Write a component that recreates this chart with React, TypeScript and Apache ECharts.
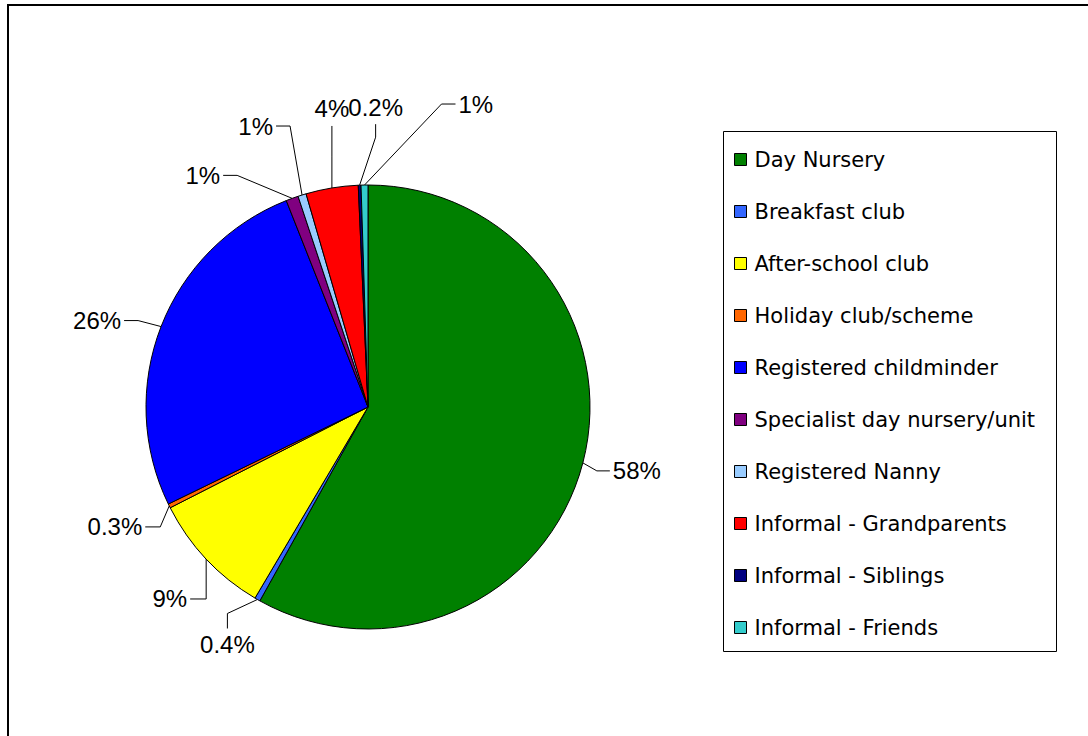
import React, { useEffect, useRef } from 'react';
import * as echarts from 'echarts';

const categories = [
  'Day Nursery',
  'Breakfast club',
  'After-school club',
  'Holiday club/scheme',
  'Registered childminder',
  'Specialist day nursery/unit',
  'Registered Nanny',
  'Informal - Grandparents',
  'Informal - Siblings',
  'Informal - Friends',
];
const values = [58.1, 0.4, 9.0, 0.3, 26.2, 0.9, 0.6, 3.8, 0.2, 0.5];
const valueLabels = ['58%', '0.4%', '9%', '0.3%', '26%', '1%', '1%', '4%', '0.2%', '1%'];
const colors = ['#008000', '#3366FF', '#FFFF00', '#FF6600', '#0000FF', '#800080', '#99CCFF', '#FF0000', '#000080', '#33CCCC'];

// leader line geometry relative to slice edge: [bendDx, bendDy, endDx, endDy, side]
const leaders: [number, number, number, number, string][] = [
  [14, 8, 27, 8, 'right'],
  [-30, 14, -30, 29, 'below'],
  [0, 40, -16, 40, 'left'],
  [-9, 21, -24, 21, 'left'],
  [-23, -6, -37, -6, 'left'],
  [-55, -23, -69, -23, 'left'],
  [-12, -69, -26, -69, 'left'],
  [0, -31, 0, -62, 'above'],
  [16, -48, 16, -61, 'above'],
  [77, -81, 91, -81, 'right'],
];

const CX = 368;
const CY = 407;
const R = 222;

function edgePoint(i: number): [number, number] {
  const total = values.reduce((a, b) => a + b, 0);
  let cum = 0;
  for (let k = 0; k < i; k++) cum += values[k];
  const mid = ((cum + values[i] / 2) / total) * Math.PI * 2;
  return [CX + R * Math.sin(mid), CY - R * Math.cos(mid)];
}

export default function App() {
  const ref = useRef<HTMLDivElement>(null);
  useEffect(() => {
    if (!ref.current) return;
    const chart = echarts.init(ref.current, null, { renderer: 'svg' });
    chart.setOption({
      animation: false,
      backgroundColor: '#fff',
      graphic: [
        {
          type: 'rect',
          z: -10,
          shape: { x: 8, y: 5, width: 1200, height: 900 },
          style: { fill: 'none', stroke: '#000', lineWidth: 2 },
        },
        {
          type: 'rect',
          z: -10,
          shape: { x: 723.5, y: 131.5, width: 333, height: 520 },
          style: { fill: 'none', stroke: '#000', lineWidth: 1 },
        },
      ],
      legend: {
        orient: 'vertical',
        left: 734,
        top: 149,
        padding: 0,
        itemGap: 31,
        itemWidth: 12,
        itemHeight: 12,
        icon: 'rect',
        selectedMode: false,
        itemStyle: { borderColor: '#000', borderWidth: 1 },
        textStyle: { fontFamily: 'DejaVu Sans', fontSize: 21, color: '#000', lineHeight: 20, padding: [0, 0, 0, 3] },
        data: categories,
      },
      series: [
        {
          type: 'pie',
          center: [CX, CY],
          radius: R,
          startAngle: 90,
          clockwise: true,
          avoidLabelOverlap: false,
          emphasis: { disabled: true },
          itemStyle: { borderColor: '#000', borderWidth: 1 },
          data: categories.map((n, i) => ({ name: n, value: values[i], itemStyle: { color: colors[i] } })),
          label: {
            show: true,
            position: 'outside',
            formatter: (p: any) => valueLabels[p.dataIndex],
            fontFamily: 'Liberation Sans, Arial, sans-serif',
            fontSize: 24,
            color: '#000',
          },
          labelLine: { show: true, length: 10, length2: 10, lineStyle: { color: '#000', width: 1 } },
          labelLayout: (params: any) => {
            const i = params.dataIndex;
            const pts = params.labelLinePoints;
            const [ex, ey] = pts && pts[0] ? pts[0] : edgePoint(i);
            const [bdx, bdy, edx, edy, side] = leaders[i];
            const bx = ex + bdx, by = ey + bdy, tx = ex + edx, ty = ey + edy;
            let x = tx, y = ty, align = 'center', verticalAlign = 'middle';
            if (side === 'right') { x = tx + 3; align = 'left'; }
            else if (side === 'left') { x = tx - 3; align = 'right'; }
            else if (side === 'below') { y = ty + 4; verticalAlign = 'top'; }
            else { y = ty - 5; verticalAlign = 'bottom'; }
            return {
              x, y, align, verticalAlign,
              labelLinePoints: [[ex, ey], [bx, by], [tx, ty]],
            };
          },
        },
      ],
    });
    return () => chart.dispose();
  }, []);
  return <div ref={ref} style={{ position: 'fixed', left: 0, top: 0, width: 1088, height: 736 }} />;
}
